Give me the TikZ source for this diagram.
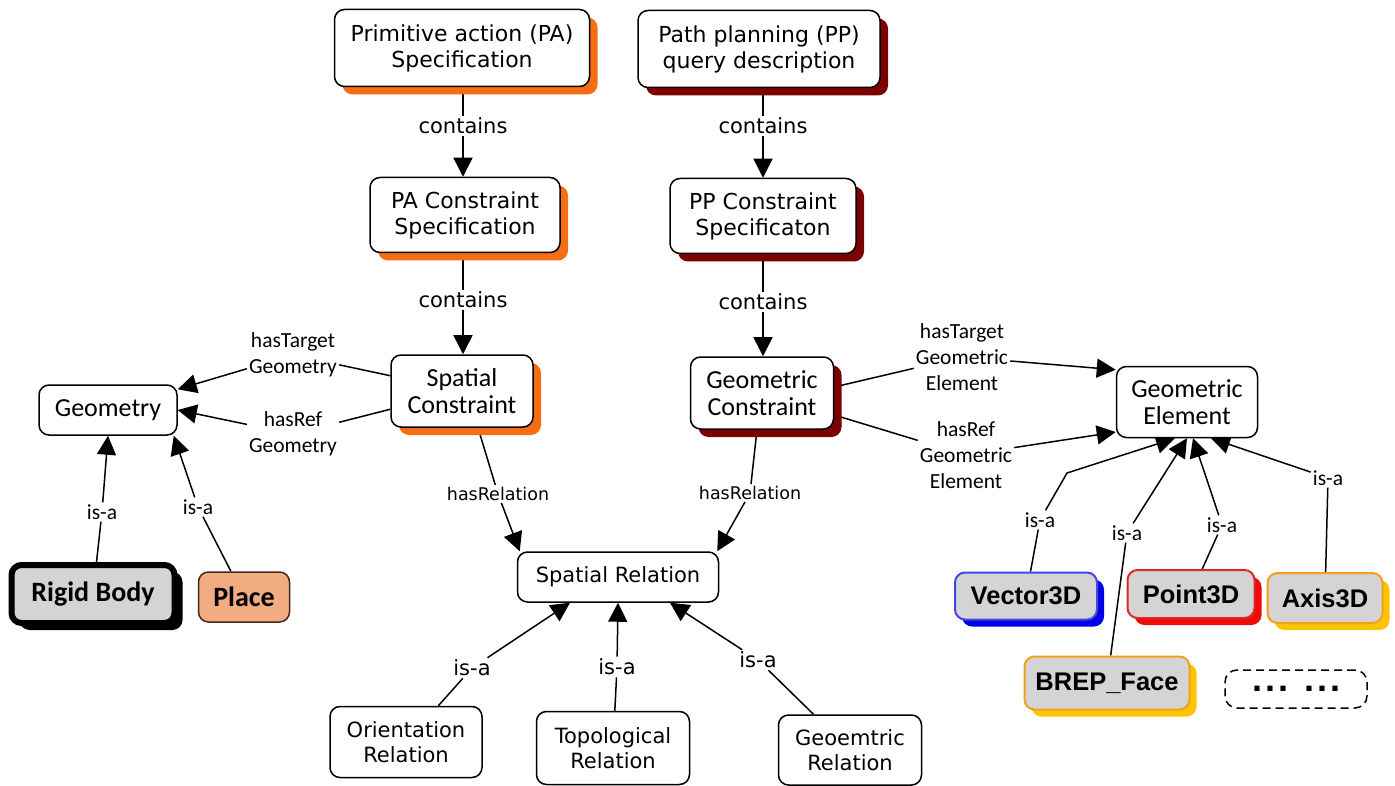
\documentclass[tikz,border=0pt]{standalone}
\usepackage{fontspec}
\setmainfont{DejaVu Sans}
\newfontfamily\calfont{Carlito}
\newfontfamily\arifont{Liberation Sans}
\usetikzlibrary{arrows.meta,shadows}
\pgfdeclarelayer{background}
\pgfsetlayers{background,main}
\definecolor{shOr}{RGB}{245,110,20}
\definecolor{shRed}{RGB}{125,0,0}
\definecolor{placeFill}{RGB}{242,172,130}
\definecolor{placeLine}{RGB}{70,40,25}
\definecolor{grayFill}{RGB}{212,212,212}
\definecolor{blS}{RGB}{0,0,230}
\definecolor{blL}{RGB}{70,70,225}
\definecolor{rdS}{RGB}{240,10,10}
\definecolor{rdL}{RGB}{220,40,40}
\definecolor{orL}{RGB}{240,160,30}
\definecolor{yelS}{RGB}{255,195,0}
\begin{document}
\begin{tikzpicture}[x=1pt,y=-1pt,
  box/.style={draw=black,line width=1.5pt,rounded corners=10pt,fill=white,align=center,inner sep=0pt},
  dv/.style={font=\fontsize{22}{26}\selectfont},
  dvs/.style={font=\fontsize{21}{25}\selectfont},
  dvh/.style={font=\fontsize{17.5}{21}\selectfont},
  cb/.style={font=\calfont\fontsize{26}{27}\selectfont},
  cl/.style={font=\calfont\fontsize{21.5}{26}\selectfont},
  cbb/.style={font=\calfont\bfseries\fontsize{28}{30}\selectfont},
  arb/.style={font=\arifont\bfseries\fontsize{25.5}{28}\selectfont},
  lab/.style={inner sep=2pt,align=center},
  osh/.style={drop shadow={shadow xshift=8pt,shadow yshift=-8pt,fill=shOr,opacity=1}},
  rsh/.style={drop shadow={shadow xshift=8pt,shadow yshift=-8pt,fill=shRed,opacity=1}},
  ln/.style={line width=1.5pt},
  arr/.style={line width=1.5pt,-{Triangle[length=19pt,width=19pt]}},
  colbox/.style n args={2}{box,arb,fill=grayFill,draw=#1,line width=2pt,
     drop shadow={shadow xshift=7pt,shadow yshift=-7pt,fill=#2,opacity=1}}
]
\useasboundingbox (0,0) rectangle (1395,786);

% main nodes
\node[box,dv,osh,minimum width=255pt,minimum height=77pt] (pa) at (462,48) {Primitive action (PA)\\Specification};
\node[box,dv,rsh,minimum width=242pt,minimum height=77pt] (pp) at (759,49) {Path planning (PP)\\query description};
\node[box,dv,osh,minimum width=190pt,minimum height=75pt] (pac) at (465,215) {PA Constraint\\Specification};
\node[box,dv,rsh,minimum width=186pt,minimum height=75pt] (ppc) at (763,216) {PP Constraint\\Specificaton};
\node[box,cb,osh,minimum width=142pt,minimum height=72pt] (sc) at (462,391) {Spatial\\Constraint};
\node[box,cb,rsh,minimum width=143pt,minimum height=72pt] (gc) at (762,393) {Geometric\\Constraint};
\node[box,cb,minimum width=138pt,minimum height=50pt] (geom) at (108,410) {Geometry};
\node[box,cb,minimum width=141pt,minimum height=71pt] (gel) at (1187,402) {Geometric\\Element};
\node[box,dvs,minimum width=201pt,minimum height=50pt] (sr) at (618,577) {Spatial Relation};
\node[box,dvs,minimum width=152pt,minimum height=71pt] (ori) at (406,742) {Orientation\\Relation};
\node[box,dvs,minimum width=153pt,minimum height=73pt] (topo) at (613,748) {Topological\\Relation};
\node[box,dvs,minimum width=143pt,minimum height=70pt] (geo) at (850,750) {Geoemtric\\Relation};

\node[box,cbb,fill=grayFill,line width=6pt,drop shadow={shadow xshift=8pt,shadow yshift=-7pt,fill=black,opacity=1},minimum width=163pt,minimum height=58pt] (rb) at (93,594) {Rigid Body};
\node[box,cbb,fill=placeFill,draw=placeLine,minimum width=91pt,minimum height=50pt] (place) at (244,597) {Place};

\node[colbox={blL}{blS},minimum width=142pt,minimum height=47pt] (v3d) at (1026,596) {Vector3D};
\node[colbox={rdL}{rdS},minimum width=127pt,minimum height=48pt] (p3d) at (1191,594) {Point3D};
\node[colbox={orL}{yelS},minimum width=115pt,minimum height=50pt] (a3d) at (1325,598) {Axis3D};
\node[colbox={orL}{yelS},minimum width=165pt,minimum height=53pt] (brep) at (1107,683) {BREP\_Face};
\node[box,draw=black,line width=1.5pt,dash pattern=on 8pt off 5pt,rounded corners=12pt,minimum width=142pt,minimum height=38pt,font=\arifont\bfseries\fontsize{36}{36}\selectfont] (dots) at (1296,689) {.\kern3pt.\kern3pt.\hspace{16pt}.\kern3pt.\kern3pt.};

% labels
\node[lab,dvs] (c1) at (463,126) {contains};
\node[lab,dvs] (c2) at (763,126) {contains};
\node[lab,dvs] (c3) at (463,300) {contains};
\node[lab,dvs] (c4) at (763,302) {contains};
\node[lab,cl] (lt1) at (293,355) {hasTarget\\Geometry};
\node[lab,cl] (lr1) at (293,434) {hasRef\\Geometry};
\node[lab,cl] (lt2) at (962,357) {hasTarget\\Geometric\\Element};
\node[lab,cl] (lr2) at (966,455) {hasRef\\Geometric\\Element};
\node[lab,dvh] (h1) at (498,494) {hasRelation};
\node[lab,dvh] (h2) at (750,493) {hasRelation};
\node[lab,dvs] (i1) at (472,668) {is-a};
\node[lab,dvs] (i2) at (617,667) {is-a};
\node[lab,dvs] (i3) at (758,660) {is-a};
\node[lab,cl] (i4) at (102,512) {is-a};
\node[lab,cl] (i5) at (198,507) {is-a};
\node[lab,cl] (i6) at (1040,520) {is-a};
\node[lab,cl] (i7) at (1127,533) {is-a};
\node[lab,cl] (i8) at (1222,525) {is-a};
\node[lab,cl] (i9) at (1328,478) {is-a};
\coordinate (bend) at (1067,473);

\begin{pgfonlayer}{background}
\draw[ln] (pa.south -| c1) -- (c1);
\draw[arr] (c1) -- (c1 |- pac.north);
\draw[ln] (pp.south -| c2) -- (c2);
\draw[arr] (c2) -- (c2 |- ppc.north);
\draw[ln] (pac.south -| c3) -- (c3);
\draw[arr] (c3) -- (c3 |- sc.north);
\draw[ln] (ppc.south -| c4) -- (c4);
\draw[arr] (c4) -- (c4 |- gc.north);

\draw[ln] (sc) -- (lt1);
\draw[arr] (lt1) -- (geom);
\draw[ln] (sc) -- (lr1);
\draw[arr] (lr1) -- (geom.east);
\draw[ln] ([yshift=6pt]gc.east) -- (lt2);
\draw[arr] (lt2) -- ([yshift=-4pt]gel.north west);
\draw[ln] ([yshift=-22pt]gc.east) -- (lr2);
\draw[arr] (lr2) -- ([yshift=-30pt]gel.west);

\draw[ln] ([xshift=16pt]sc.south) -- (h1);
\draw[arr] (h1) -- ([xshift=3pt]sr.north west);
\draw[ln] ([xshift=-5pt]gc.south) -- (h2);
\draw[arr] (h2) -- ([xshift=-2pt]sr.north east);

\draw[ln] (ori) -- (i1);
\draw[arr] (i1) -- ([xshift=-48pt]sr.south);
\draw[ln] (topo) -- (i2);
\draw[arr] (i2) -- (sr.south);
\draw[ln] (geo) -- (i3);
\draw[arr] (i3) -- ([xshift=52pt]sr.south);

\draw[ln] (rb) -- (i4);
\draw[arr] (i4) -- (geom.south);
\draw[ln] (place) -- (i5);
\draw[arr] (i5) -- ([xshift=-4pt]geom.south east);

\draw[ln] (v3d) -- (i6);
\draw[arr] (i6) -- (bend) -- ([xshift=-12pt]gel.south);
\draw[ln] (brep) -- (i7);
\draw[arr] (i7) -- (gel.south);
\draw[ln] (p3d) -- (i8);
\draw[arr] (i8) -- ([xshift=6pt]gel.south);
\draw[ln] (a3d) -- (i9);
\draw[arr] (i9) -- ([xshift=24pt]gel.south);
\end{pgfonlayer}
\end{tikzpicture}
\end{document}
